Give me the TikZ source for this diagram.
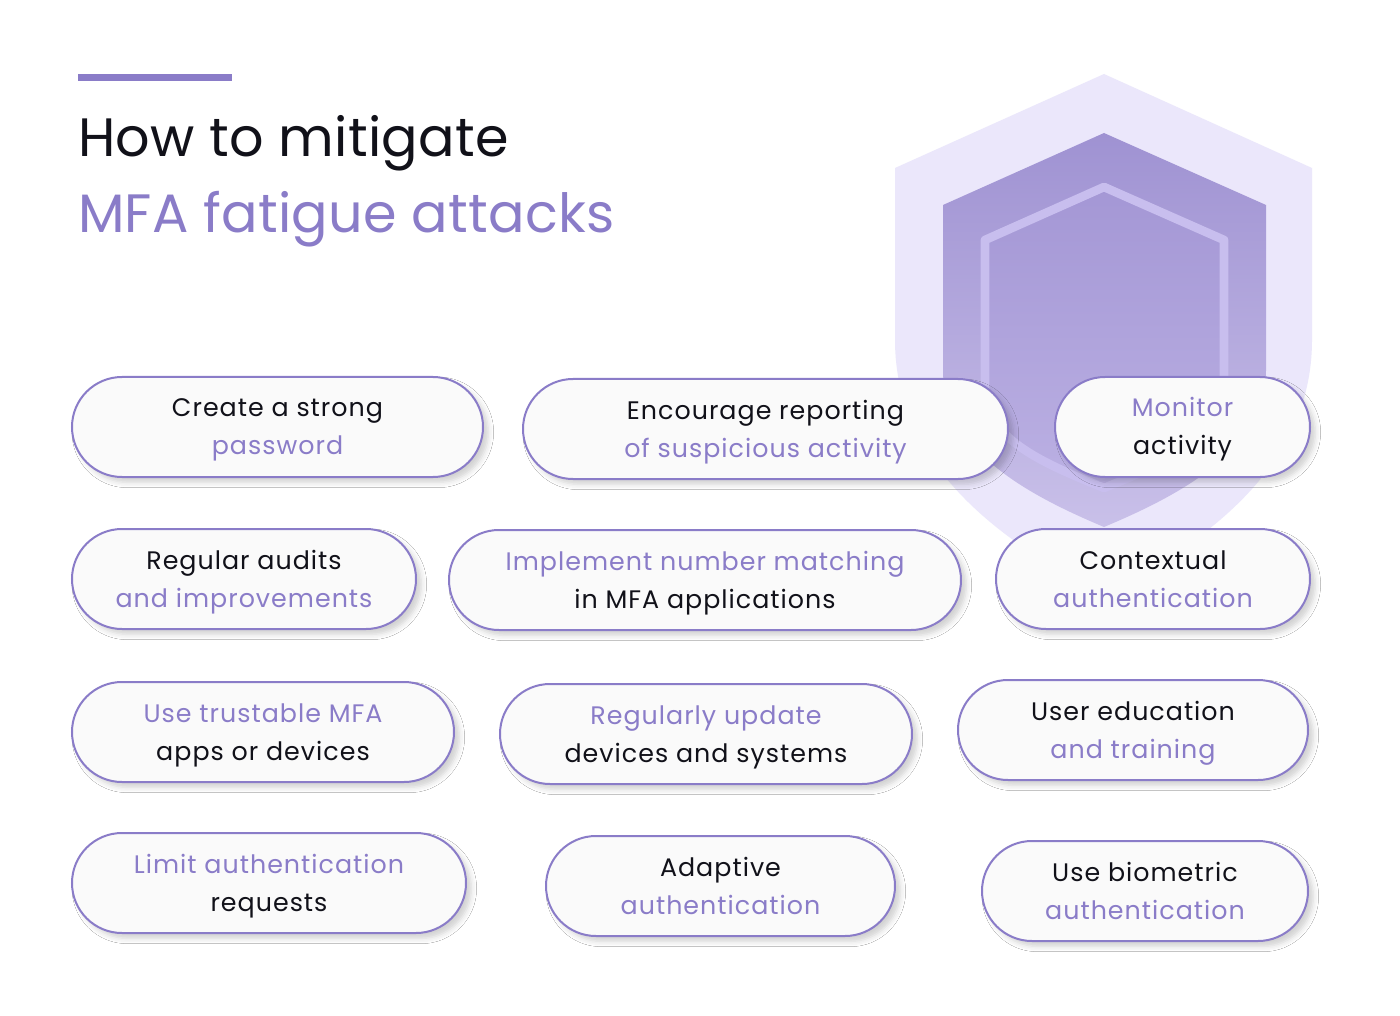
\documentclass[tikz,border=0pt]{standalone}
\usepackage{fontspec}
\setmainfont{Poppins}
\newfontfamily\pillfont[LetterSpace=4]{Poppins}
\newfontfamily\titlefont[LetterSpace=0.5]{Poppins}
\usetikzlibrary{shadows.blur}
\definecolor{ptxt}{HTML}{8A7CC8}
\definecolor{ktxt}{HTML}{111119}
\definecolor{pborder}{HTML}{8A7CC8}
\definecolor{pfill}{HTML}{FAFAFA}
\definecolor{shOuter}{HTML}{EBE7FB}
\definecolor{shMidTop}{HTML}{9F92D2}
\definecolor{shMidBot}{HTML}{C9C0E9}
\definecolor{shInTop}{HTML}{A497D5}
\definecolor{shInBot}{HTML}{BBB0E3}
\definecolor{shLine}{HTML}{C8BEEE}
\newcommand\ps{\rule[-6.5pt]{0pt}{26.5pt}}
\newcommand\pp[1]{\ps\textcolor{ptxt}{#1}}
\newcommand\pk[1]{\ps\textcolor{ktxt}{#1}}
\begin{document}
\begin{tikzpicture}[x=0.75pt,y=-0.75pt,
  pill/.style={draw=pborder, line width=1.5pt, fill=pfill,
    rounded corners=37.5pt, minimum height=75pt, minimum width={#1*0.75pt},
    align=center, inner sep=0pt,
    font=\pillfont\fontsize{19}{28.5}\selectfont,
    blur shadow={shadow xshift=4pt, shadow yshift=-4pt, shadow blur radius=4pt, shadow opacity=18}},
  titletext/.style={anchor=base west, inner sep=0pt, font=\titlefont\fontsize{40.5}{48}\selectfont}]
\useasboundingbox (0,0) rectangle (1400,1016);
\fill[white] (0,0) rectangle (1400,1016);
% title
\fill[ptxt] (78,74) rectangle (232,81);
\node[titletext, text=ktxt] (t1) at (78,157) {How to mitigate};
\node[titletext, text=ptxt] (t2) at (78,233) {MFA fatigue attacks};
% shield
\fill[shOuter] (1104,74) -- (1312,168) -- (1312,340)
  .. controls (1312,470) and (1200,545) .. (1104,595)
  .. controls (1008,545) and (895,470) .. (895,340) -- (895,168) -- cycle;
\shade[top color=shMidTop, bottom color=shMidBot] (1104,133) -- (1266,205) -- (1266,370)
  .. controls (1266,450) and (1180,495) .. (1104,527)
  .. controls (1028,495) and (943,450) .. (943,370) -- (943,205) -- cycle;
\shade[top color=shInTop, bottom color=shInBot] (1104,187) -- (1224,240) -- (1224,390)
  .. controls (1224,440) and (1160,465) .. (1104,488)
  .. controls (1048,465) and (985,440) .. (985,390) -- (985,240) -- cycle;
\draw[shLine, line width=6.5pt, line join=round] (1104,187) -- (1224,240) -- (1224,390)
  .. controls (1224,440) and (1160,465) .. (1104,488)
  .. controls (1048,465) and (985,440) .. (985,390) -- (985,240) -- cycle;
% pills
\node[pill=411] (p1) at (277.5,427) {\pk{Create a strong}\\\pp{password}};
\node[pill=485] (p2) at (765.5,429) {\pk{Encourage reporting}\\\pp{of suspicious activity}};
\node[pill=255] (p3) at (1182.5,427) {\pp{Monitor}\\\pk{activity}};
\node[pill=344] (p4) at (244,579) {\pk{Regular audits}\\\pp{and improvements}};
\node[pill=512] (p5) at (705,580) {\pp{Implement number matching}\\\pk{in MFA applications}};
\node[pill=314] (p6) at (1153,579) {\pk{Contextual}\\\pp{authentication}};
\node[pill=382] (p7) at (263,732) {\pp{Use trustable MFA}\\\pk{apps or devices}};
\node[pill=412] (p8) at (706,734) {\pp{Regularly update}\\\pk{devices and systems}};
\node[pill=350] (p9) at (1133,730) {\pk{User education}\\\pp{and training}};
\node[pill=394] (p10) at (269,883) {\pp{Limit authentication}\\\pk{requests}};
\node[pill=349] (p11) at (720.5,886) {\pk{Adaptive}\\\pp{authentication}};
\node[pill=326] (p12) at (1145,891) {\pk{Use biometric}\\\pp{authentication}};
\end{tikzpicture}
\end{document}
